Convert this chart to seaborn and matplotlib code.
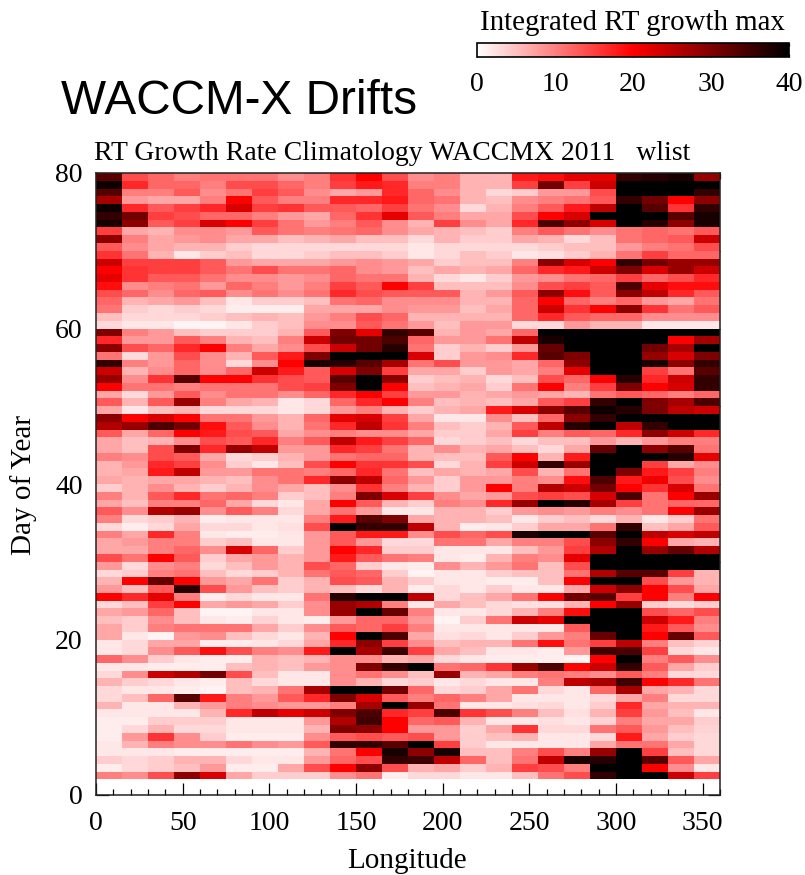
import numpy as np
import pandas as pd
import matplotlib
matplotlib.use("Agg")
import matplotlib.pyplot as plt
from matplotlib.colors import LinearSegmentedColormap
import seaborn as sns

longitudes = list(range(0, 360, 15))
days = list(range(2, 80))

days_79_60 = [
 [33,14,12,10,11,11,11,9,10,16,20,14, 9,10,6,6,18,19,22,22,36,37,38,28],
 [39,17,12,12,10,14,14,12,10,15,18,17, 10,10,6,6,15,31,15,24,40,40,40,40],
 [33,10,10,13,9,11,15,13,9,7,8,17, 12,9,6,3,4,8,8,14,40,40,40,36],
 [27,8,7,7,10,20,13,10,10,17,17,18, 12,11,6,5,9,10,11,13,36,31,20,29],
 [39,17,13,15,17,23,15,16,13,13,12,15, 11,9,3,6,10,13,18,25,40,33,16,36],
 [36,31,15,14,12,12,10,8,7,12,16,22, 13,10,7,7,14,20,23,40,40,40,33,38],
 [38,29,13,15,23,20,15,11,8,10,13,9, 6,15,9,7,17,34,29,23,40,37,29,38],
 [15,7,6,9,9,8,13,11,10,11,12,9, 7,6,5,4,10,13,11,9,11,12,11,13],
 [29,10,7,8,9,7,7,5,6,7,5,5, 3,6,4,4,7,6,3,5,11,12,13,24],
 [13,9,7,6,6,4,3,3,3,3,3,3, 2,3,3,3,3,4,5,5,8,10,11,14],
 [16,11,6,2,4,5,3,3,4,5,5,4, 2,3,5,4,2,2.5,4,6,11,15,12,12],
 [24,15,15,15,13,8,7,7,7,8,9,8, 7,4,5,5,10,29,23,20,36,31,28,28],
 [20,16,15,15,13,11,14,11,11,12,9,8, 5,7,6,7,12,17,18,24,30,23,28,24],
 [22,16,13,13,11,9,9,8,9,12,11,11, 6,3,2,4,8,9,11,12,15,12,14,17],
 [19,9,10,11,8,12,10,8,10,15,13,20, 15,5,5,5,9,14,15,13,34,22,19,19],
 [14,12,9,12,13,9,11,9,11,17,14,13, 13,13,6,8,13,29,19,13,29,25,17,13],
 [12,6,7,8,5,2,4,4,5,11,12,9, 9,9,6,6,12,20,12,10,12,8,7,11],
 [11,4,3,4,3,1.5,1.5,1.5,7,7,7,9, 8,8,5,7,12,24,16,20,29,16,11,13],
 [5,3,3,3,4,5,6,5,8,10,14,12, 6,6,6,6,12,17,13,12,12,9,9,9],
 [3,2,2,1,1,2,4,5,9,9,13,11, 8,5,8,8,3,3,8,6,6,2,2,2],
]
days_59_40 = [
 [30,10,8,5,4,4,4,6,13,30,22,36, 33,6,8,7,12,40,40,40,40,40,40,40],
 [17,8,8,13,10,6,5,10,24,31,31,34, 12,8,8,11,25,38,40,40,40,40,20,27],
 [29,14,12,17,20,10,7,9,14,24,31,37, 11,4,6,4,8,32,40,40,40,31,27,40],
 [11,3,8,14,9,6,13,18,30,40,40,40, 23,4,8,9,17,33,30,40,40,28,23,30],
 [36,10,8,12,9,3,9,20,38,37,33,27, 11,14,8,8,7,12,29,40,40,38,29,36],
 [24,6,9,12,9,12,24,18,13,23,30,15, 7,7,4,8,7,10,22,40,40,15,11,33],
 [28,9,16,33,20,20,16,14,13,33,40,29, 4,5,6,3,5,14,12,20,37,17,24,36],
 [20,11,11,10,11,11,11,14,15,30,40,20, 5,6,7,4,11,20,10,15,30,20,23,36],
 [7,3,8,13,9,11,11,9,12,17,20,15, 8,8,6,7,8,7,6,11,13,12,10,12],
 [13,6,13,28,10,7,6,2,3,12,17,20, 10,5,6,5,7,13,15,36,40,30,27,34],
 [7,2,5,6,3,3,3,2,3,8,10,6, 4,6,7,18,23,29,33,39,37,30,25,24],
 [29,20,23,20,11,11,8,6,12,22,23,15, 7,2,2,9,5,12,29,36,40,40,40,40],
 [26,28,34,31,19,13,9,6,11,17,25,16, 10,5,4,6,13,25,37,40,25,36,40,40],
 [13,7,12,20,18,14,13,7,9,10,9,9, 7,4,4,7,15,10,13,12,17,29,24,17],
 [7,5,6,9,14,13,17,10,13,25,18,15, 12,3,4,5,3,5,5,8,6,8,10,10],
 [7,5,14,30,17,28,25,8,8,17,15,11, 6,9,6,7,5,3,7,32,40,29,33,11],
 [10,9,14,13,7,3,4,6,8,11,12,12, 6,5,5,13,20,6,18,40,40,40,37,22],
 [6,8,17,15,9,4,2,5,14,20,16,16, 14,3,6,15,24,36,28,40,40,15,7,9],
 [6,7,18,25,8,8,11,11,10,12,17,11, 5,7,6,7,14,6,11,40,30,18,15,10],
 [7,6,7,7,6,5,9,11,17,29,25,12, 8,4,8,8,10,9,19,34,18,21,14,9],
]
days_39_20 = [
 [4,6,9,6,4,6,9,7,5,9,16,10, 6,4,8,20,10,26,24,31,20,16,23,11],
 [10,6,13,17,11,12,10,4,5,10,30,23, 15,9,7,8,14,15,14,23,34,11,20,28],
 [7,5,10,10,12,7,3,2,7,20,13,6, 4,10,9,17,28,40,37,27,15,11,12,12],
 [13,9,26,28,9,13,10,3,7,11,8,2, 2,6,6,4,8,9,8,10,9,11,20,28],
 [10,3,4,6,1.5,2,2,2,10,18,33,30, 7,6,6,5,2,4,5,3,6,2,4,11],
 [3,1.5,3,7,3,3,2,2.5,14,40,36,36, 25,6,1.5,2,4,7,7,11,36,5,7,13],
 [10,7,17,10,2,1.5,1.5,2,8,13,18,18, 9,14,12,14,38,40,40,33,40,25,23,25],
 [7,8,10,10,4,5,2,2,8,13,8,3, 3,11,11,7,10,10,14,29,36,20,7,6],
 [7,7,10,12,9,23,12,4,8,20,17,4, 4,2,2,2,5,8,15,26,40,28,32,26],
 [14,11,20,13,4,7,8,6,8,18,13,11, 10,2,1.5,6,10,9,22,40,40,40,40,40],
 [8,3,9,10,3,5,8,6,14,12,4,2, 1.5,9,6,8,11,5,14,40,40,40,40,40],
 [3,4,10,11,5,3,4,6,11,13,12,4, 1,2,2,4,5,5,11,26,33,33,15,6],
 [6,20,32,20,8,7,11,4,6,14,13,6, 4,2,2,1.5,1.5,5,20,40,40,14,8,6],
 [8,5,13,37,14,8,5,4,6,5,3,6, 1.5,3,2,4,2,2,7,24,29,20,14,7],
 [20,17,22,10,1.5,3,2,2,11,37,40,40, 25,3,5,7,11,20,31,33,15,20,10,20],
 [3,5,15,20,7,8,7,4,9,28,26,10, 2,7,5,3,2.5,2.5,6,20,28,4,3,4],
 [7,8,12,5,1,1,2,2,9,28,40,32, 10,2,2,3,6,10,19,40,40,14,12,14],
 [5,4,9,5,2,1.5,3.5,2,1.5,8,12,12, 8,1,4,11,24,22,40,40,40,24,18,10],
 [7,4,10,11,11,11,7,4,9,13,12,15, 10,2,2,2,2,2,13,40,40,18,13,9],
 [7,2,1,8,9,5,3,2,6,20,40,34, 7,2.5,3,2,4,8,10,32,40,20,32,13],
]
days_19_2 = [
 [2,3,7,7,1.5,1.5,2,3,7,17,29,15, 9,5,6,6,11,19,11,15,25,10,5,3.5],
 [2,3,9,13,19,14,10,9,18,40,27,35, 15,7,5,2,2,1.5,8,35,34,15,3,2],
 [12,9,4,2,1.5,1.5,6,5,6,9,9,6, 7,3,2,1.5,1.5,1.5,1,20,40,10,13,9],
 [2,2,1.5,1.5,1.5,5,6,5,8,9,30,36, 40,11,12,16,28,34,20,24,36,13,7,4],
 [3,9,24,26,31,14,5,2,2,9,11,9, 5,28,6,7,10,11,10,9,13,10,3,3],
 [6,4,3,2,1.5,5,3,2,2,9,6,3, 4,2,3,2,2,10,25,27,35,20,17,11],
 [3,2,2,1.5,1,5,6,11,27,40,40,31, 12,3,4,7,11,3,2,12,27,7,6,3],
 [3,5,12,33,18,10,8,13,17,30,23,13, 10,12,10,7,2,2,2,3,7,10,3,3],
 [6,2,2,6,8,10,9,8,8,10,27,40, 28,11,2,2,2.5,3,2,4,17,7,6,6],
 [2,2,2,2,6,17,25,22,24,30,34,17, 15,34,16,14,10,5,2.5,6,15,8,5,2],
 [1.5,1.5,4,4,4,2,2,2,8,26,35,20, 12,13,6,2,2,2.5,2,3.5,10,7,7,4],
 [1.5,3,6,3,3,2,2,2,6,30,29,20, 8,8,4,7,16,3,3,11,13,8,5,3.5],
 [1.5,8,16,9,4,1.5,1.5,1.5,9,13,14,13, 14,8,4,5,6,2,2,3,18,7,4,3],
 [2,6,10,9,9,11,9,8,13,36,36,33, 40,15,4,2,2,2,2,7,11,11,7,3],
 [2,2,2,1.5,1.5,1.5,1.5,1.5,6,11,20,38, 29,38,5,5,10,14,10,28,40,15,5,3],
 [4,3,4,6,6,3,2,2,8,12,14,36, 35,25,12,5,11,25,38,37,40,33,13,7],
 [1.5,3,4,5,8,1.5,1.5,7,14,20,29,14, 6,7,4,6,15,14,10,40,40,20,9,2],
 [10,9,14,29,23,7,4,4,4,9,11,1.5, 3,3,2,2,5,11,14,36,40,40,24,15],
]

lon_major = [0, 50, 100, 150, 200, 250, 300, 350]
lon_minor = list(range(0, 361, 10))
day_major = [0, 20, 40, 60, 80]
day_minor = list(range(0, 81, 10))
cbar_ticks = [0, 10, 20, 30, 40]
CELL_DEG = 15

sns.set_theme(style="white")
plt.rcParams["font.family"] = ["Liberation Serif", "DejaVu Serif"]
plt.rcParams["text.color"] = "black"
plt.rcParams["xtick.labelcolor"] = "black"
plt.rcParams["ytick.labelcolor"] = "black"

values = np.array(days_79_60 + days_59_40 + days_39_20 + days_19_2, dtype=float)
table = pd.DataFrame(values, index=days[::-1], columns=longitudes)
table = table.reindex(index=list(range(0, 80)))

cmap = LinearSegmentedColormap.from_list("wrb", ["#ffffff", "#ff0000", "#000000"], N=256)

W, H = 805, 875
fig = plt.figure(figsize=(W / 100, H / 100), dpi=100)
ax = fig.add_axes([96 / W, 1 - 795 / H, 624 / W, 622 / H])
cax = fig.add_axes([477 / W, 1 - 57 / H, 312 / W, 14 / H])

sns.heatmap(table, ax=ax, cbar_ax=cax, vmin=0, vmax=40, cmap=cmap,
            xticklabels=False, yticklabels=False,
            cbar_kws={"orientation": "horizontal"})

ax.set_xlim(0, 24)
ax.set_ylim(0, 80)
ax.set_xticks([v / CELL_DEG for v in lon_major])
ax.set_xticklabels([str(v) for v in lon_major], rotation=0)
ax.set_xticks([v / CELL_DEG for v in lon_minor], minor=True)
ax.set_yticks(day_major)
ax.set_yticklabels([str(v) for v in day_major], rotation=0)
ax.set_yticks(day_minor, minor=True)
ax.tick_params(which="major", direction="in", length=9, width=0.9, color="black",
               labelcolor="black", top=True, right=True, bottom=True, left=True, labelsize=20)
ax.tick_params(axis="x", which="major", pad=11.5)
ax.tick_params(axis="y", which="major", pad=9.5)
ax.tick_params(which="minor", direction="in", length=4.5, width=0.9, color="black",
               top=True, right=True, bottom=True, left=True)
for s in ax.spines.values():
    s.set_visible(True)
    s.set_color("#222222")
    s.set_linewidth(1.1)

ax.set_xlabel("")
ax.set_ylabel("")
fig.text(407 / W, 1 - 861 / H, "Longitude", ha="center", va="center", fontsize=21, color="black")
fig.text(24 / W, 1 - 485 / H, "Day of Year", ha="center", va="center", rotation=90, fontsize=21, color="black")
fig.text(94 / W, 1 - 154 / H, "RT Growth Rate Climatology WACCMX 2011   wlist",
         ha="left", va="center", fontsize=20, color="black")
fig.text(61 / W, 1 - 102 / H, "WACCM-X Drifts", ha="left", va="center",
         fontsize=34.4, family=["Liberation Sans"], color="black")
fig.text(632 / W, 1 - 23 / H, "Integrated RT growth max", ha="center", va="center",
         fontsize=20.8, color="black")

cb = ax.collections[0].colorbar
cb.set_ticks(cbar_ticks)
cb.set_ticklabels([str(v) for v in cbar_ticks])
cb.ax.tick_params(direction="in", length=2.5, width=0.9, color="black", labelcolor="black",
                  top=True, bottom=True, labelsize=20, pad=10.5)
cb.outline.set_visible(True)
cb.outline.set_edgecolor("black")
cb.outline.set_linewidth(1.2)

fig.savefig("out.png", dpi=100)
